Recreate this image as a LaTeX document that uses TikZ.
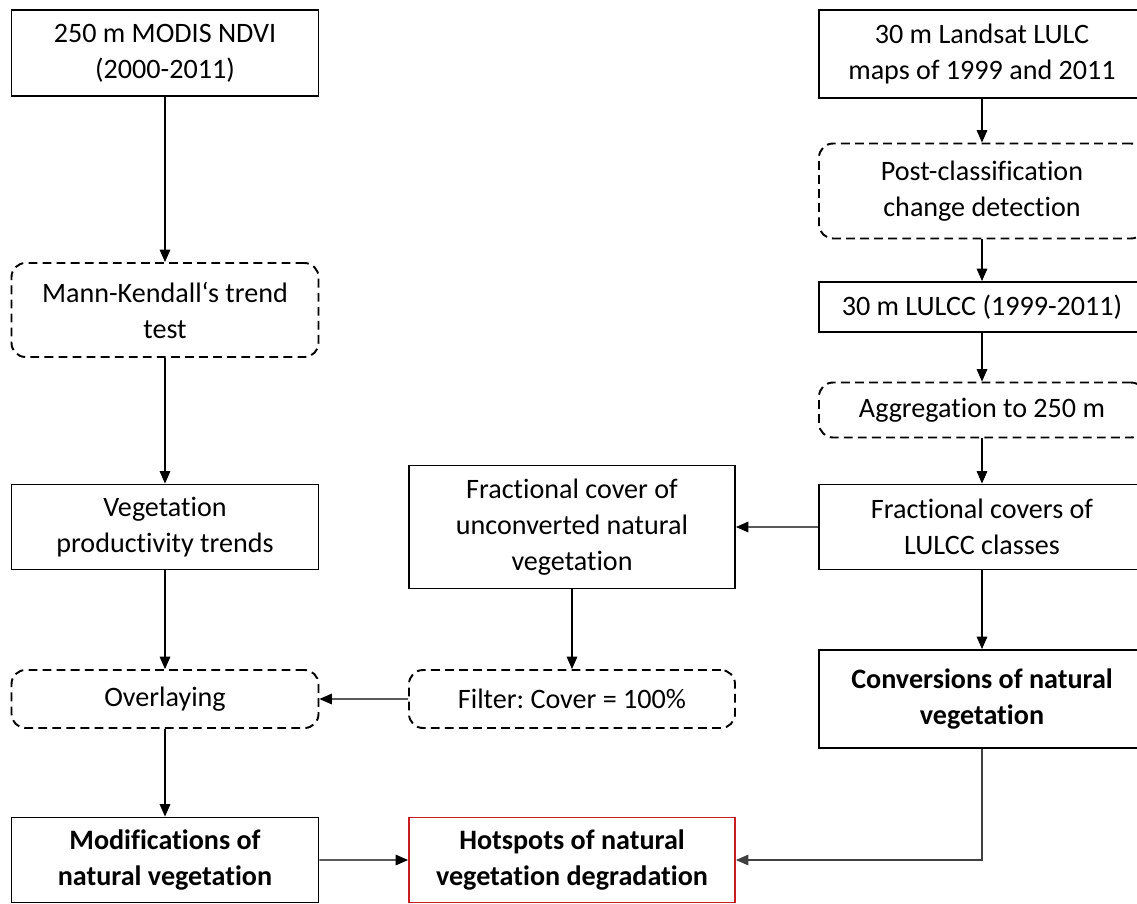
\documentclass[tikz,border=0pt]{standalone}
\usepackage{fontspec}
\setmainfont{Carlito}[Ligatures=NoCommon]
\usetikzlibrary{arrows.meta,positioning}

\definecolor{hotred}{RGB}{200,30,35}

\tikzset{
  box/.style={draw, line width=1.1pt, align=center, inner sep=2pt,
    font=\fontsize{16}{20.5}\selectfont},
  boxA/.style={box, minimum width=6.14cm},
  boxB/.style={box, minimum width=6.52cm},
  boxC/.style={box, minimum width=6.52cm},
  proc/.style={dash pattern=on 5pt off 3pt, rounded corners=8pt},
  link/.style={->, line width=0.6pt}
}

\begin{document}
\frenchspacing
\begin{tikzpicture}[on grid, >={Triangle[length=7pt,width=6pt]}]
  \useasboundingbox (0,0) rectangle (22.74,-18.06);
  % left column
  \node[boxA, minimum height=1.72cm] (modis) at (3.30,-1.06) {250 m MODIS NDVI\\(2000-2011)};
  \node[boxA, proc, minimum height=1.88cm] (mktest) [below=5.14cm of modis] {Mann-Kendall‘s trend\\test};
  \node[boxA, minimum height=1.70cm] (trends) [below=4.34cm of mktest] {Vegetation\\productivity trends};
  \node[boxA, proc, minimum height=1.16cm] (overlay) [below=3.44cm of trends] {Overlaying};
  \node[boxA, minimum height=1.70cm, font=\fontsize{16}{20.5}\selectfont\bfseries] (modif) [below=3.22cm of overlay] {Modifications of\\natural vegetation};
  % right column
  \node[boxC, minimum height=1.76cm] (landsat) at (19.64,-1.08) {30 m Landsat LULC\\maps of 1999 and 2011};
  \node[boxC, proc, minimum height=1.90cm] (postcls) [below=2.74cm of landsat] {Post-classification\\change detection};
  \node[boxC, minimum height=1.00cm] (lulcc) [below=2.32cm of postcls] {30 m LULCC (1999-2011)};
  \node[boxC, proc, minimum height=1.10cm] (aggr) [below=2.06cm of lulcc] {Aggregation to 250 m};
  \node[boxC, minimum height=1.70cm] (fraccov) [below=2.34cm of aggr] {Fractional covers of\\LULCC classes};
  \node[boxC, minimum height=1.96cm, font=\fontsize{16}{20.5}\selectfont\bfseries] (conv) [below=3.44cm of fraccov] {Conversions of natural\\vegetation};
  % middle column
  \node[boxB, minimum height=2.46cm] (unconv) at (11.44,-10.54) {Fractional cover of\\unconverted natural\\vegetation};
  \node[boxB, proc, minimum height=1.16cm] (filter) [below=3.44cm of unconv] {Filter: Cover = 100\%};
  \node[boxB, draw=hotred, minimum height=1.70cm, font=\fontsize{16}{20.5}\selectfont\bfseries] (hotspot) [below=3.22cm of filter] {Hotspots of natural\\vegetation degradation};

  \draw[link] (modis) -- (mktest);
  \draw[link] (mktest) -- (trends);
  \draw[link] (trends) -- (overlay);
  \draw[link] (overlay) -- (modif);
  \draw[link] (landsat) -- (postcls);
  \draw[link] (postcls) -- (lulcc);
  \draw[link] (lulcc) -- (aggr);
  \draw[link] (aggr) -- (fraccov);
  \draw[link] (fraccov) -- (conv);
  \draw[link] (fraccov) -- (unconv);
  \draw[link] (unconv) -- (filter);
  \draw[link] (filter) -- (overlay);
  \draw[link] (modif) -- (hotspot);
  \draw[link, draw=black!75] (conv.south) |- (hotspot.east);
\end{tikzpicture}
\end{document}
